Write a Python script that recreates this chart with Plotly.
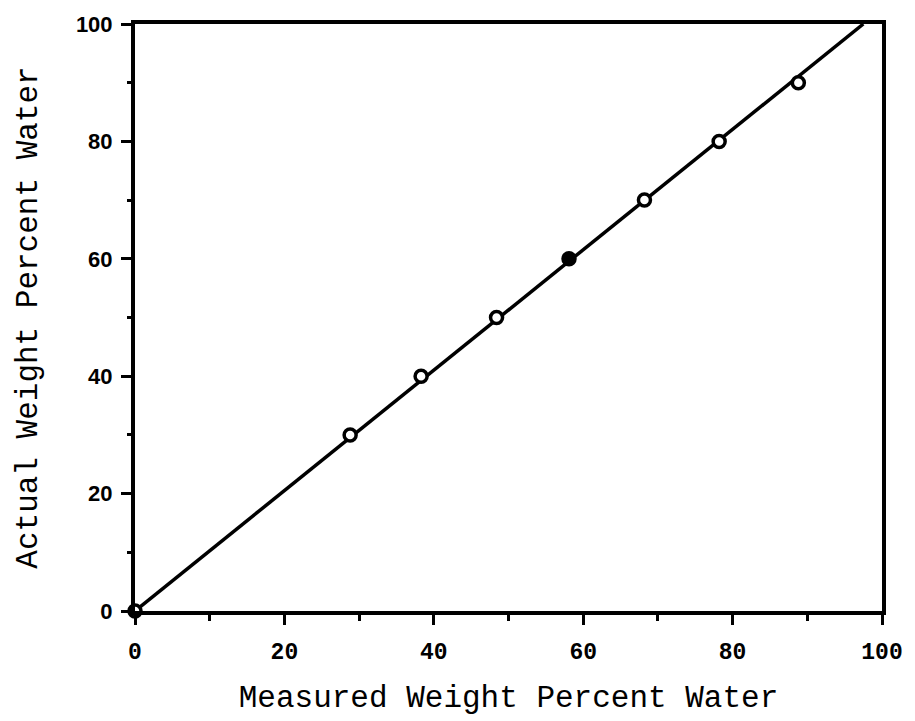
import plotly.graph_objects as go

# Data
measured = [0, 28.8, 38.3, 48.4, 58.1, 68.2, 78.2, 88.8]
actual = [0, 30, 40, 50, 60, 70, 80, 90]
marker_fill = ["white", "white", "white", "white", "black", "white", "white", "white"]

fit_x = [0, 97.5]
fit_y = [0, 100]

tick_vals = [0, 20, 40, 60, 80, 100]
tick_text = ["0", "20", "40", "60", "80", "100"]

fig = go.Figure()
fig.add_trace(go.Scatter(
    x=fit_x, y=fit_y, mode="lines",
    line=dict(color="black", width=3.5),
    showlegend=False, hoverinfo="skip",
))
fig.add_trace(go.Scatter(
    x=measured, y=actual, mode="markers",
    marker=dict(symbol="circle", size=12, color=marker_fill,
                line=dict(color="black", width=3.5)),
    cliponaxis=False, showlegend=False,
))

axis_common = dict(
    range=[0, 100],
    tickvals=tick_vals, ticktext=tick_text,
    showgrid=False, zeroline=False,
    showline=True, linecolor="black", linewidth=4, mirror=True,
    ticks="outside", ticklen=10, tickwidth=3, tickcolor="black",
)

fig.update_xaxes(
    **axis_common,
    minor=dict(dtick=10, tick0=0, ticks="outside", ticklen=6, tickwidth=2.5, tickcolor="black"),
    tickfont=dict(family="Liberation Mono", size=23, color="black", weight="bold"),
    ticklabelstandoff=6,
    title=dict(text="Measured Weight Percent Water",
               font=dict(family="Liberation Mono", size=31, color="black"),
               standoff=22),
)
fig.update_yaxes(
    **axis_common,
    minor=dict(dtick=10, tick0=0, ticks="outside", ticklen=4, tickwidth=2.5, tickcolor="black"),
    tickfont=dict(family="Liberation Sans", size=22, color="black", weight="bold"),
    ticklabelstandoff=4,
    title=dict(text="Actual Weight Percent Water",
               font=dict(family="Liberation Mono", size=31, color="black"),
               standoff=30),
)

fig.update_layout(
    width=915, height=721,
    margin=dict(l=135, r=28, t=23, b=95),
    paper_bgcolor="white", plot_bgcolor="white",
)

fig.write_html("out.html")
